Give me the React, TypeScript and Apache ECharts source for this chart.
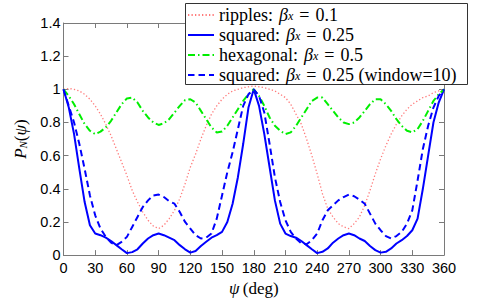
import React, { useEffect, useRef } from "react";
import * as echarts from "echarts";

const psi = [
  0, 5, 10, 15, 20, 25, 30, 35, 40, 45, 50, 55, 60, 65, 70, 75, 80, 85, 90, 95, 100, 105, 110, 115, 120,
  125, 130, 135, 140, 145, 150, 155, 160, 165, 170, 175, 180, 185, 190, 195, 200, 205, 210, 215, 220, 225,
  230, 235, 240, 245, 250, 255, 260, 265, 270, 275, 280, 285, 290, 295, 300, 305, 310, 315, 320, 325, 330,
  335, 340, 345, 350, 355, 360,
];

const ripples = [
  1.0, 1.005, 1.0, 0.99, 0.97, 0.94, 0.9, 0.85, 0.79, 0.72, 0.64, 0.56, 0.48, 0.39, 0.32, 0.26, 0.21, 0.175,
  0.16, 0.18, 0.22, 0.27, 0.34, 0.43, 0.53, 0.61, 0.7, 0.78, 0.85, 0.9, 0.94, 0.97, 0.99, 1.0, 1.01, 1.015,
  1.02, 1.015, 1.01, 1.0, 0.99, 0.97, 0.95, 0.91, 0.85, 0.79, 0.7, 0.6, 0.49, 0.37, 0.28, 0.23, 0.19, 0.17,
  0.16, 0.19, 0.23, 0.3, 0.39, 0.49, 0.58, 0.66, 0.73, 0.79, 0.84, 0.88, 0.91, 0.93, 0.95, 0.96, 0.98, 0.99,
  1.0,
];

const squared = [
  1.0, 0.89, 0.73, 0.52, 0.32, 0.18, 0.13, 0.12, 0.105, 0.085, 0.06, 0.035, 0.012, 0.018, 0.035, 0.07, 0.1,
  0.12, 0.13, 0.12, 0.105, 0.09, 0.06, 0.035, 0.015, 0.025, 0.055, 0.08, 0.105, 0.12, 0.14, 0.2, 0.31, 0.47,
  0.67, 0.89, 1.0, 0.9, 0.73, 0.53, 0.33, 0.19, 0.13, 0.115, 0.105, 0.085, 0.06, 0.035, 0.012, 0.02, 0.04,
  0.075, 0.1, 0.12, 0.13, 0.12, 0.1, 0.085, 0.055, 0.03, 0.015, 0.02, 0.04, 0.07, 0.09, 0.115, 0.15, 0.22,
  0.4, 0.6, 0.8, 0.92, 1.0,
];

const hexagonal = [
  1.0, 0.96, 0.91, 0.85, 0.79, 0.75, 0.73, 0.745, 0.77, 0.81, 0.86, 0.91, 0.945, 0.95, 0.92, 0.87, 0.83, 0.8,
  0.785, 0.795, 0.82, 0.86, 0.9, 0.935, 0.94, 0.92, 0.87, 0.82, 0.77, 0.74, 0.745, 0.78, 0.83, 0.88, 0.93,
  0.97, 1.0, 0.96, 0.9, 0.83, 0.78, 0.75, 0.73, 0.74, 0.78, 0.83, 0.88, 0.93, 0.95, 0.95, 0.91, 0.87, 0.83,
  0.8, 0.79, 0.8, 0.83, 0.87, 0.91, 0.94, 0.94, 0.91, 0.87, 0.82, 0.78, 0.75, 0.74, 0.76, 0.81, 0.87, 0.93,
  0.97, 1.0,
];

const squaredWindow = [
  1.0, 0.9, 0.8, 0.67, 0.52, 0.36, 0.24, 0.16, 0.11, 0.075, 0.06, 0.08, 0.11, 0.17, 0.23, 0.29, 0.33, 0.36,
  0.365, 0.35, 0.325, 0.31, 0.26, 0.2, 0.16, 0.12, 0.1, 0.105, 0.13, 0.22, 0.36, 0.5, 0.62, 0.76, 0.9, 0.97,
  1.0, 0.96, 0.86, 0.67, 0.47, 0.32, 0.21, 0.14, 0.1, 0.07, 0.065, 0.09, 0.13, 0.21, 0.27, 0.3, 0.33, 0.35,
  0.365, 0.355, 0.335, 0.31, 0.25, 0.19, 0.15, 0.115, 0.1, 0.115, 0.14, 0.19, 0.27, 0.45, 0.64, 0.78, 0.89,
  0.96, 1.0,
];

const seriesNames = ["ripples", "squared", "hexagonal", "squaredWindow"];
const legendLabels: Record<string, string> = {
  ripples: "{t|ripples:}{b|β}{s|x}{e|=}{t|0.1}",
  squared: "{t|squared:}{b|β}{s|x}{e|=}{t|0.25}",
  hexagonal: "{t|hexagonal:}{b|β}{s|x}{e|=}{t|0.5}",
  squaredWindow: "{t|squared:}{b|β}{s|x}{e|=}{t|0.25 (window=10)}",
};

const xTicks = { min: 0, max: 360, interval: 30 };
const yTicks = { min: 0, max: 1.4, interval: 0.2 };

export default function App() {
  const ref = useRef<HTMLDivElement>(null);
  useEffect(() => {
    const chart = echarts.init(ref.current!, null, { renderer: "svg" });
    const serif = "'Liberation Serif', 'Times New Roman', serif";
    const sans = "'Liberation Sans', Arial, Helvetica, sans-serif";
    const axisColor = "#7a7a7a";
    const pair = (ys: number[]) => psi.map((x, i) => [x, ys[i]]);

    const frameAxis = (position: string, isX: boolean, main: boolean) => ({
      type: "value",
      position,
      ...(isX ? xTicks : yTicks),
      axisLine: { show: true, onZero: false, lineStyle: { color: axisColor, width: 1 } },
      axisTick: { show: true, inside: true, length: 5, lineStyle: { color: axisColor, width: 1 } },
      axisLabel: main
        ? { show: true, fontFamily: sans, fontSize: 14.5, color: "#000", margin: isX ? 5 : 3 }
        : { show: false },
      splitLine: { show: false },
    });

    const lf = 18;
    const option: any = {
      animation: false,
      backgroundColor: "#fff",
      grid: { left: 63.5, right: 47, top: 23, bottom: 39, containLabel: false },
      xAxis: [
        {
          ...frameAxis("bottom", true, true),
          name: "{i|ψ} {t|(deg)}",
          nameLocation: "middle",
          nameGap: 19,
          nameTextStyle: {
            rich: {
              i: { fontFamily: serif, fontStyle: "italic", fontSize: 17, color: "#000" },
              t: { fontFamily: serif, fontSize: 17, color: "#000" },
            },
          },
        },
        frameAxis("top", true, false),
      ],
      yAxis: [
        {
          ...frameAxis("left", false, true),
          name: "{i|P}{s|N}{t|(}{i|ψ}{t|)}",
          nameLocation: "middle",
          nameRotate: 90,
          nameGap: 29,
          nameTextStyle: {
            rich: {
              i: { fontFamily: serif, fontStyle: "italic", fontSize: 17, color: "#000", lineHeight: 16 },
              t: { fontFamily: serif, fontSize: 17, color: "#000", lineHeight: 16 },
              s: { fontFamily: serif, fontStyle: "italic", fontSize: 11, color: "#000", lineHeight: 4, verticalAlign: "bottom" },
            },
          },
        },
        frameAxis("right", false, false),
      ],
      legend: {
        orient: "vertical",
        left: 184,
        top: 3,
        padding: [3, 4, 3, 3],
        itemGap: 2,
        itemWidth: 26,
        itemHeight: 14,
        z: 20,
        data: seriesNames,
        itemStyle: { color: "rgba(0,0,0,0)", borderColor: "rgba(0,0,0,0)", borderWidth: 0, opacity: 0 },
        formatter: (name: string) => legendLabels[name],
        textStyle: {
          fontFamily: serif,
          fontSize: lf,
          color: "#000",
          lineHeight: 14,
          rich: {
            t: { fontFamily: serif, fontSize: lf, color: "#000", lineHeight: 14 },
            b: { fontFamily: serif, fontStyle: "italic", fontSize: lf, color: "#000", lineHeight: 14, padding: [0, 0, 0, 6] },
            e: { fontFamily: serif, fontSize: lf, color: "#000", lineHeight: 14, padding: [0, 6, 0, 6] },
            s: { fontFamily: serif, fontStyle: "italic", fontSize: 12, color: "#000", lineHeight: 4, verticalAlign: "bottom" },
          },
        },
      },
      graphic: [
        {
          type: "rect",
          z: 15,
          shape: { x: 185.5, y: 3.5, width: 282, height: 81 },
          style: { fill: "#fff", stroke: "#333", lineWidth: 1 },
        },
      ],
      series: [
        {
          name: "ripples",
          type: "line",
          data: pair(ripples),
          symbol: "none",
          lineStyle: { color: "#ff7a7a", width: 1.3, type: [1.3, 2.2] },
          itemStyle: { color: "#ff7a7a" },
        },
        {
          name: "squared",
          type: "line",
          data: pair(squared),
          symbol: "none",
          lineStyle: { color: "#0000ff", width: 2 },
          itemStyle: { color: "#0000ff" },
        },
        {
          name: "hexagonal",
          type: "line",
          data: pair(hexagonal),
          symbol: "none",
          lineStyle: { color: "#00ee00", width: 2, type: [7, 3, 1.5, 3] },
          itemStyle: { color: "#00ee00" },
        },
        {
          name: "squaredWindow",
          type: "line",
          data: pair(squaredWindow),
          symbol: "none",
          lineStyle: { color: "#0000ff", width: 2, type: [6.5, 4] },
          itemStyle: { color: "#0000ff" },
        },
      ],
    };
    chart.setOption(option);
    return () => chart.dispose();
  }, []);
  return <div ref={ref} style={{ position: "absolute", left: 0, top: 0, width: 491, height: 302 }} />;
}
